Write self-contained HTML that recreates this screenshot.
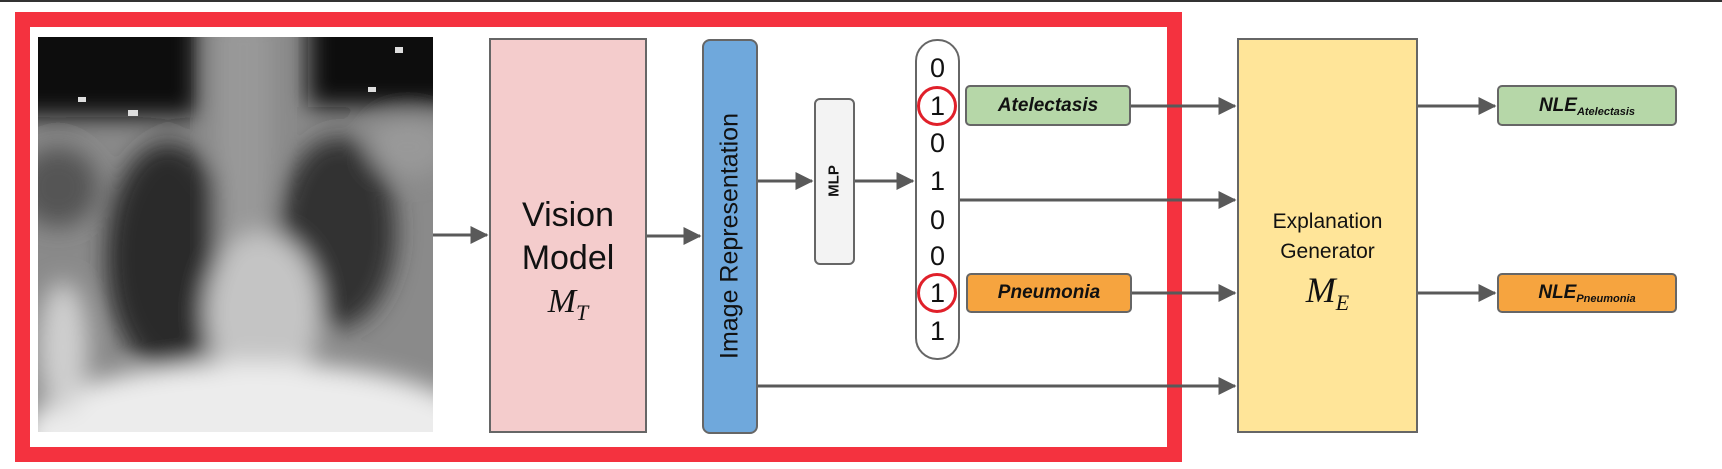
<!DOCTYPE html>
<html style="margin:0;width:1722px;height:469px;overflow:hidden"><head><meta charset="utf-8"><style>
body{margin:0;width:1722px;height:469px;background:#fff;position:relative;overflow:hidden;font-family:"Liberation Sans",Arial,sans-serif}
.a{position:absolute}
.box{position:absolute;box-sizing:border-box;border:2px solid #666}
.lab{font-weight:bold;font-style:italic;color:#111;display:flex;align-items:center;justify-content:center;font-size:19px;border-radius:5px}
.d{position:absolute;left:915px;width:45px;text-align:center;font-size:27px;line-height:30px;color:#111}
.m{font-family:"Liberation Serif",serif;font-style:italic}
</style></head><body>
<div class="a" style="left:0;top:0;width:1722px;height:2px;background:#333"></div>
<div class="a" style="left:15px;top:12px;width:1167px;height:450px;box-sizing:border-box;border:15px solid #f4323f"></div>

<svg class="a" style="left:38px;top:37px" width="395" height="395" viewBox="0 0 395 395">
<defs><filter id="b" x="-50%" y="-50%" width="200%" height="200%"><feGaussianBlur stdDeviation="12"/></filter></defs>
<clipPath id="c"><rect width="395" height="395"/></clipPath>
<g clip-path="url(#c)">
<rect width="395" height="395" fill="#8a8a8a"/>
<g filter="url(#b)">
<rect x="-40" y="-40" width="200" height="120" fill="#080808"/>
<rect x="270" y="-40" width="170" height="110" fill="#080808"/>
<ellipse cx="20" cy="150" rx="40" ry="40" fill="#555"/>
<ellipse cx="130" cy="220" rx="62" ry="115" fill="#2c2c2c"/>
<ellipse cx="300" cy="195" rx="58" ry="95" fill="#303030"/>
<rect x="178" y="-20" width="55" height="320" fill="#999"/>
<ellipse cx="225" cy="275" rx="58" ry="80" fill="#c4c4c4"/>
<ellipse cx="215" cy="400" rx="230" ry="75" fill="#ececec"/>
<ellipse cx="25" cy="310" rx="25" ry="65" fill="#cfcfcf"/>
<ellipse cx="370" cy="110" rx="40" ry="30" fill="#999"/>
</g>
<rect x="90" y="73" width="10" height="6" fill="#ddd"/><rect x="40" y="60" width="8" height="5" fill="#ddd"/><rect x="330" y="50" width="8" height="5" fill="#ddd"/><rect x="357" y="10" width="8" height="6" fill="#ddd"/>
</g>
</svg>

<div class="box" style="left:489px;top:38px;width:158px;height:395px;background:#f4cccc"></div>
<div class="a" style="left:489px;top:194px;width:158px;text-align:center;font-size:34px;line-height:43px;color:#111">Vision<br>Model<br><span class="m">M<sub style="font-size:22px">T</sub></span></div>

<div class="box" style="left:702px;top:39px;width:56px;height:395px;background:#6fa8dc;border-radius:8px"></div>
<div class="a" style="left:730px;top:236px;transform:translate(-50%,-50%) rotate(-90deg);white-space:nowrap;font-size:25px;color:#111">Image Representation</div>

<div class="box" style="left:814px;top:98px;width:41px;height:167px;background:#f3f3f3;border-radius:6px"></div>
<div class="a" style="left:834px;top:181px;transform:translate(-50%,-50%) rotate(-90deg);font-weight:bold;font-size:15px;color:#111">MLP</div>

<div class="box" style="left:915px;top:39px;width:45px;height:321px;border-radius:22px;background:#fff"></div>
<div class="d" style="top:53px">0</div><div class="d" style="top:91px">1</div><div class="d" style="top:128px">0</div><div class="d" style="top:166px">1</div><div class="d" style="top:205px">0</div><div class="d" style="top:241px">0</div><div class="d" style="top:278px">1</div><div class="d" style="top:316px">1</div>
<div class="a" style="left:917px;top:86px;border:3px solid #e0202a;border-radius:50%;box-sizing:border-box;width:40px;height:40px"></div>
<div class="a" style="left:917px;top:273px;border:3px solid #e0202a;border-radius:50%;box-sizing:border-box;width:40px;height:40px"></div>

<div class="box lab" style="left:965px;top:85px;width:166px;height:41px;background:#b6d7a8">Atelectasis</div>
<div class="box lab" style="left:966px;top:273px;width:166px;height:40px;background:#f6a43f">Pneumonia</div>

<div class="box" style="left:1237px;top:38px;width:181px;height:395px;background:#ffe599"></div>
<div class="a" style="left:1237px;top:207px;width:181px;text-align:center;font-size:21px;line-height:30px;color:#111">Explanation<br>Generator</div>
<div class="a m" style="left:1237px;top:268px;width:181px;text-align:center;font-size:36px;line-height:44px;color:#111">M<sub style="font-size:22px">E</sub></div>

<div class="box lab" style="left:1497px;top:85px;width:180px;height:41px;background:#b6d7a8">NLE<sub style="font-size:11px;position:relative;top:6px">Atelectasis</sub></div>
<div class="box lab" style="left:1497px;top:273px;width:180px;height:40px;background:#f6a43f">NLE<sub style="font-size:11px;position:relative;top:6px">Pneumonia</sub></div>

<svg class="a" style="left:0;top:0" width="1722" height="469">
<defs><marker id="ar" markerWidth="6" markerHeight="6" refX="5.5" refY="3" orient="auto" markerUnits="strokeWidth"><path d="M0,0 L6,3 L0,6 z" fill="#595959"/></marker></defs>
<g stroke="#595959" stroke-width="3" fill="none" marker-end="url(#ar)">
<line x1="433" y1="235" x2="487" y2="235"/>
<line x1="647" y1="236" x2="700" y2="236"/>
<line x1="758" y1="181" x2="812" y2="181"/>
<line x1="855" y1="181" x2="913" y2="181"/>
<line x1="1131" y1="106" x2="1235" y2="106"/>
<line x1="960" y1="200" x2="1235" y2="200"/>
<line x1="1132" y1="293" x2="1235" y2="293"/>
<line x1="758" y1="386" x2="1235" y2="386"/>
<line x1="1418" y1="106" x2="1495" y2="106"/>
<line x1="1418" y1="293" x2="1495" y2="293"/>
</g></svg>
</body></html>
